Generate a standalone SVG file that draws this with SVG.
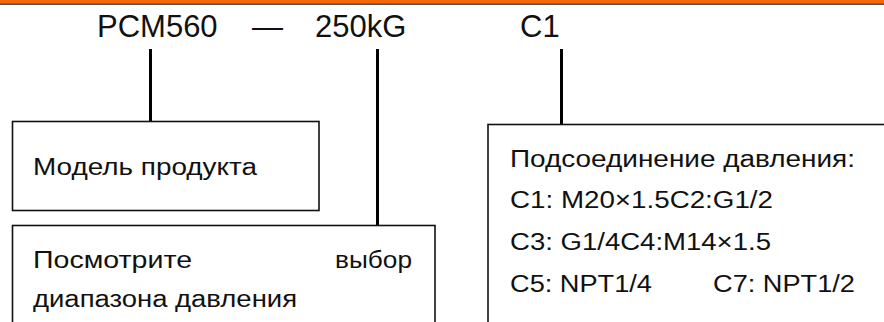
<svg xmlns="http://www.w3.org/2000/svg" width="884" height="322" viewBox="0 0 884 322">
<style>
.title{font-family:"Liberation Sans",Arial,sans-serif;font-size:31px;fill:#111}
.lbl{font-family:"Liberation Sans",Arial,sans-serif;font-size:23.5px;fill:#111}
.box{fill:#fff;stroke:#111;stroke-width:1.6}
.conn{stroke:#000;stroke-width:3;fill:none}
</style>
<rect x="0" y="0" width="884" height="3.4" fill="#F76707"/>
<rect x="0" y="3.4" width="884" height="1.4" fill="#2a2a2a"/>
<g id="title">
<text class="title" x="97" y="36.7">PCM560</text>
<text class="title" x="252" y="36.7">—</text>
<text class="title" x="315" y="36.7">250kG</text>
<text class="title" x="520" y="36.7">C1</text>
</g>
<g id="connectors">
<line class="conn" x1="150.5" y1="49" x2="150.5" y2="121"/>
<line class="conn" x1="377.5" y1="49" x2="377.5" y2="225"/>
<line class="conn" x1="561.5" y1="49" x2="561.5" y2="124.5"/>
</g>
<g id="model">
<rect class="box" x="12.5" y="121.5" width="306.5" height="89"/>
<text class="lbl" x="33" y="175" textLength="224" lengthAdjust="spacingAndGlyphs">Модель продукта</text>
</g>
<g id="range">
<rect class="box" x="12.5" y="225.5" width="422.5" height="110"/>
<text class="lbl" x="33" y="268" textLength="159" lengthAdjust="spacingAndGlyphs">Посмотрите</text>
<text class="lbl" x="335" y="268" textLength="77" lengthAdjust="spacingAndGlyphs">выбор</text>
<text class="lbl" x="33" y="306.5" textLength="264" lengthAdjust="spacingAndGlyphs">диапазона давления</text>
</g>
<g id="connection">
<rect class="box" x="488" y="124.5" width="420" height="220"/>
<text class="lbl" x="510" y="166.5" textLength="345" lengthAdjust="spacingAndGlyphs">Подсоединение давления:</text>
<text class="lbl" x="510" y="208" textLength="263" lengthAdjust="spacingAndGlyphs">C1: M20×1.5C2:G1/2</text>
<text class="lbl" x="510" y="250" textLength="261" lengthAdjust="spacingAndGlyphs">C3: G1/4C4:M14×1.5</text>
<text class="lbl" x="510" y="291.5" textLength="142" lengthAdjust="spacingAndGlyphs">C5: NPT1/4</text>
<text class="lbl" x="713" y="291.5" textLength="142" lengthAdjust="spacingAndGlyphs">C7: NPT1/2</text>
</g>
</svg>
